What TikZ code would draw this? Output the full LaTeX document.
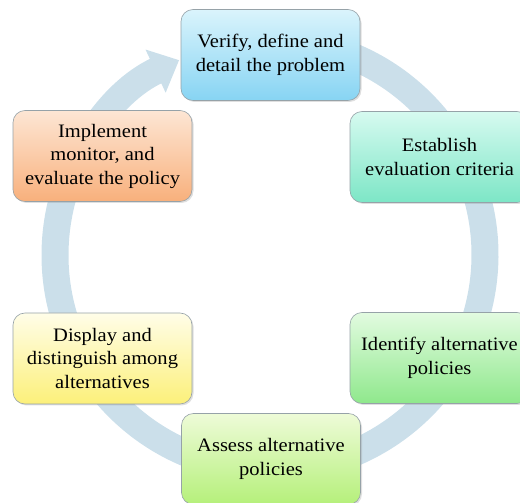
\documentclass[tikz,border=0pt]{standalone}
\usepackage{fontspec}
\setmainfont{Liberation Serif}[FakeStretch=1.08]
\usepackage{tikz}
\usetikzlibrary{arrows.meta,shadows}

\definecolor{ringblue}{RGB}{203,223,234}
\definecolor{boxline}{RGB}{150,162,168}
\definecolor{verifytop}{RGB}{218,244,252}
\definecolor{verifybot}{RGB}{135,212,243}
\definecolor{criteriatop}{RGB}{214,250,240}
\definecolor{criteriabot}{RGB}{125,230,198}
\definecolor{identifytop}{RGB}{226,251,224}
\definecolor{identifybot}{RGB}{143,232,140}
\definecolor{assesstop}{RGB}{238,251,216}
\definecolor{assessbot}{RGB}{181,240,122}
\definecolor{displaytop}{RGB}{255,253,232}
\definecolor{displaybot}{RGB}{252,240,122}
\definecolor{implementtop}{RGB}{253,230,212}
\definecolor{implementbot}{RGB}{248,176,124}

\begin{document}
\begin{tikzpicture}[x=1pt,y=1pt,
        box/.style={rectangle,rounded corners=12pt,draw=boxline,line width=0.6pt,
          minimum width=179pt,minimum height=91pt,align=center,
          font=\fontsize{19}{23.5}\selectfont,
          drop shadow={opacity=0.25,shadow xshift=1.5pt,shadow yshift=-1.5pt}}]
        \useasboundingbox (0,0) rectangle (520,503);
        \coordinate (hub) at (270,248);
        % the cycle
        \draw[ringblue,line width=27pt,-{Triangle[width=46pt,length=26pt]}]
          (hub) ++(85:215) arc[start angle=85,end angle=-245,radius=215];
        % the steps
        \node[box,top color=verifytop,bottom color=verifybot] (verify) at (270.5,448)
          {Verify, define and\\detail the problem};
        \node[box,top color=criteriatop,bottom color=criteriabot] (criteria) at (439.5,346)
          {Establish\\evaluation criteria};
        \node[box,top color=identifytop,bottom color=identifybot] (identify) at (439.5,145)
          {Identify alternative\\policies};
        \node[box,top color=assesstop,bottom color=assessbot] (assess) at (271,44)
          {Assess alternative\\policies};
        \node[box,top color=displaytop,bottom color=displaybot] (display) at (102.5,144.5)
          {Display and\\distinguish among\\alternatives};
        \node[box,top color=implementtop,bottom color=implementbot] (implement) at (102.5,347)
          {Implement\\monitor, and\\evaluate the policy};
\end{tikzpicture}
\end{document}
